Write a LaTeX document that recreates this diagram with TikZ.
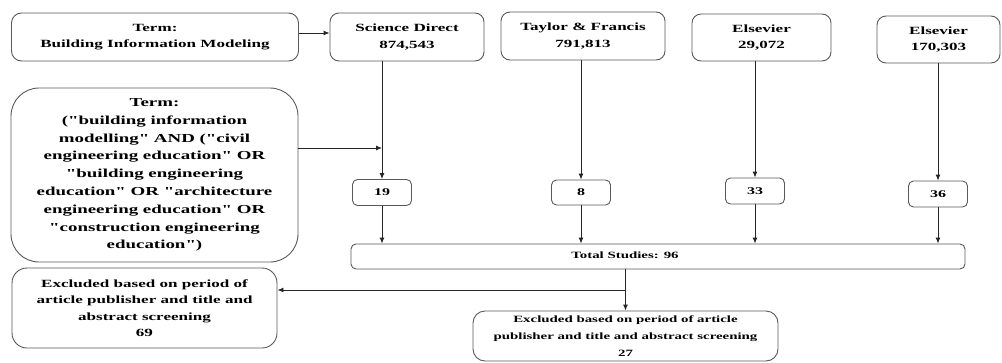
\documentclass[tikz,border=0pt]{standalone}
\usepackage{fontspec}
\setmainfont{Liberation Serif}[FakeStretch=1.55, Ligatures=TeXOff]
\usetikzlibrary{arrows.meta,calc}
\begin{document}
\begin{tikzpicture}[x=1pt,y=-1pt,
  box/.style={draw=black!65, line width=0.9pt, fill=white, align=center, inner sep=0pt,
    font=\bfseries\fontsize{11}{16.5}\selectfont},
  arr/.style={draw=black!85, line width=0.9pt, -{Latex[length=6pt,width=5pt]}}]
\useasboundingbox (0,0) rectangle (1002,362);

\node[box, rounded corners=10pt, minimum width=287pt, minimum height=48pt] (t1) at (155,37)
  {Term:\\Building Information Modeling};
\node[box, rounded corners=28pt, minimum width=287pt, minimum height=174pt,
  font=\bfseries\fontsize{12.2}{17.8}\selectfont] (t2) at (154.5,175)
  {Term:\\("building information\\modelling" AND ("civil\\engineering education" OR\\"building engineering\\education" OR "architecture\\engineering education" OR\\"construction engineering\\education")};

\node[box, rounded corners=9pt, minimum width=154pt, minimum height=48pt] (sd) at (407,37)
  {Science Direct\\874,543};
\node[box, rounded corners=9pt, minimum width=164pt, minimum height=48pt] (tf) at (583,36)
  {Taylor \& Francis\\791,813};
\node[box, rounded corners=9pt, minimum width=139pt, minimum height=47pt] (e1) at (761.5,37.5)
  {Elsevier\\29,072};
\node[box, rounded corners=9pt, minimum width=123pt, minimum height=47pt] (e2) at (938.5,39.5)
  {Elsevier\\170,303};

\node[box, rounded corners=5pt, minimum width=59pt, minimum height=26pt,
  font=\bfseries\fontsize{10.3}{12}\selectfont] (n19) at (382,192.5) {19};
\node[box, rounded corners=5pt, minimum width=59pt, minimum height=25pt,
  font=\bfseries\fontsize{10.3}{12}\selectfont] (n8) at (581,192.5) {8};
\node[box, rounded corners=5pt, minimum width=59pt, minimum height=26pt,
  font=\bfseries\fontsize{10.3}{12}\selectfont] (n33) at (755,191) {33};
\node[box, rounded corners=5pt, minimum width=59pt, minimum height=26pt,
  font=\bfseries\fontsize{10.3}{12}\selectfont] (n36) at (938,194) {36};

\node[box, rounded corners=5pt, minimum width=614pt, minimum height=25pt] (total) at (658,256.5) {};
\node[font=\bfseries\fontsize{9.6}{12}\selectfont, inner sep=0pt] (totaltext) at (625,255.5) {Total Studies: 96};

\node[box, rounded corners=15pt, minimum width=265pt, minimum height=80pt,
  font=\bfseries\fontsize{11}{16.5}\selectfont] (ex69) at (144.5,308)
  {Excluded based on period of\\article publisher and title and\\abstract screening\\69};
\node[box, rounded corners=12pt, minimum width=305pt, minimum height=50pt,
  font=\bfseries\fontsize{9.6}{16.8}\selectfont] (ex27) at (625.5,336)
  {Excluded based on period of article\\publisher and title and abstract screening\\27};

% connectors
\draw[arr] ([yshift=4pt]t1.east) -- ([yshift=4pt]sd.west);
\draw[arr] (sd.south -| n19) -- (n19.north);
\draw[arr] (tf.south -| n8) -- (n8.north);
\draw[arr] (e1.south -| n33) -- (n33.north);
\draw[arr] (e2.south -| n36) -- (n36.north);
\coordinate (j) at (382,148);
\draw[arr] (t2.east |- j) -- (j);

\draw[arr] (n19.south) -- (n19 |- total.north);
\draw[arr] (n8.south) -- (n8 |- total.north);
\draw[arr] (n33.south) -- (n33 |- total.north);
\draw[arr] (n36.south) -- (n36 |- total.north);

\draw[arr] (total.south -| ex27) -- (ex27.north);
\coordinate (br) at ($(total.south -| ex27)!0.5!(ex27.north)$);
\draw[arr] (br) -- (br -| ex69.east);
\end{tikzpicture}
\end{document}
